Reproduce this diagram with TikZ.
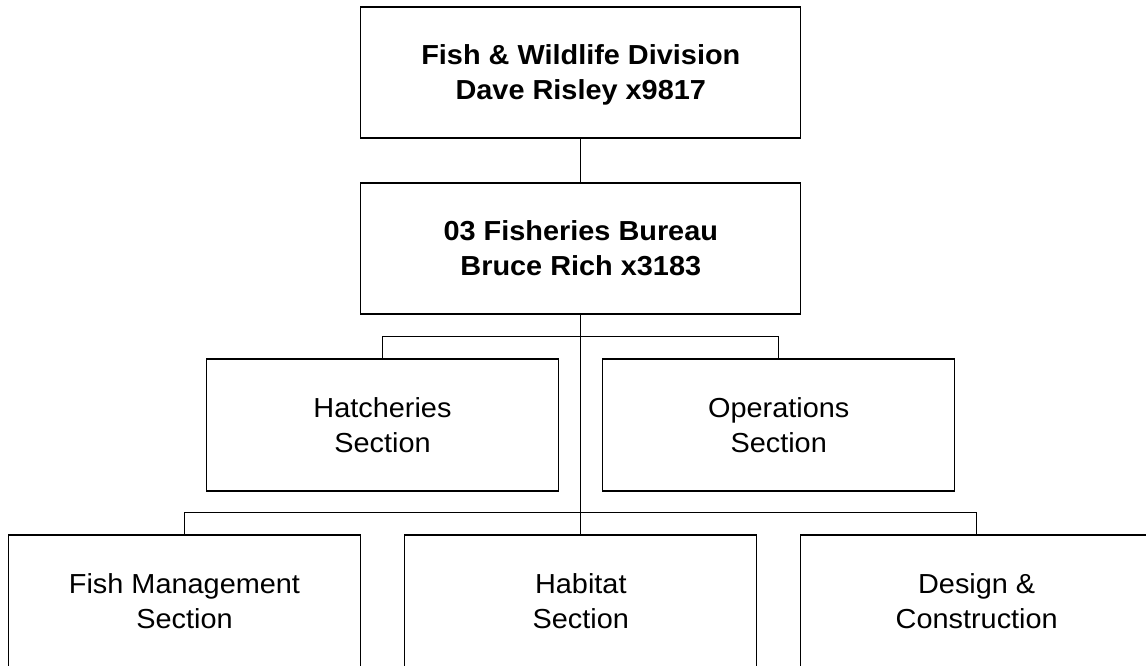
\documentclass[tikz,border=0pt]{standalone}
\usepackage{fontspec}
\setmainfont{Liberation Sans}[FakeStretch=1.05]
\begin{document}
\begin{tikzpicture}[x=1pt,y=-1pt,
  line width=1.2pt,
  unit/.style={draw=black, fill=white, rectangle, inner sep=0pt,
    minimum width=352pt, minimum height=132pt, align=center,
    text depth=0pt, font=\fontsize{27.5}{35}\selectfont},
  headunit/.style={unit, minimum width=440pt, minimum height=131pt,
    font=\fontsize{27.5}{35}\selectfont\bfseries},
  link/.style={draw=black, line width=1.2pt}]
  % page area
  \fill[white] (0,0) rectangle (1146,666);
  \clip (0,0) rectangle (1146,666);

  % division and bureau
  \node[headunit] (div) at (580.8,72.5) {Fish \& Wildlife Division\\Dave Risley x9817};
  \node[headunit] (bureau) at (580.8,248.5) {03 Fisheries Bureau\\Bruce Rich x3183};

  % first tier of sections
  \node[unit] (hatch) at (382.5,425) {Hatcheries\\Section};
  \node[unit] (ops) at (778.7,425) {Operations\\Section};

  % second tier of sections
  \node[unit] (fishm) at (184.5,601) {Fish Management\\Section};
  \node[unit] (habitat) at (580.8,601) {Habitat\\Section};
  \node[unit] (design) at (976.7,601) {Design \&\\Construction};

  % reporting lines
  \draw[link] (div.south) -- (bureau.north);
  \draw[link] (bureau.south) -- (habitat.north);
  \draw[link] (hatch.north) -- ++(0,-22) -| (ops.north);
  \draw[link] (fishm.north) -- ++(0,-22) -| (design.north);
\end{tikzpicture}
\end{document}
